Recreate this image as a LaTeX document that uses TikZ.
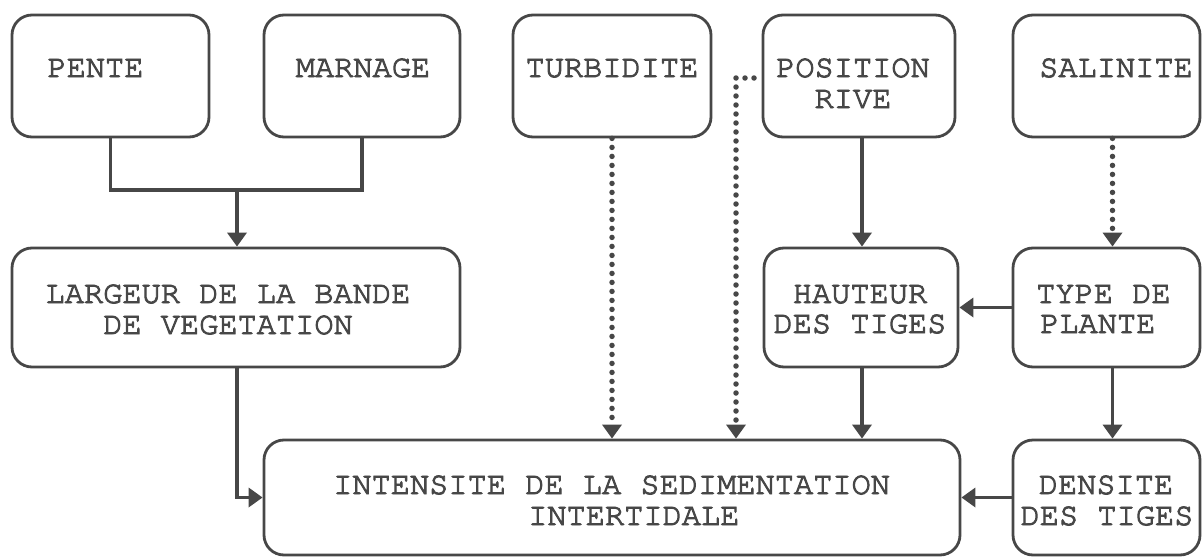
\documentclass[tikz,border=0pt]{standalone}
\usepackage{fontspec}
\usetikzlibrary{arrows.meta,calc}
\newfontfamily\tw{texgyrecursor-regular.otf}[FakeBold=3]
\definecolor{ink}{HTML}{474747}
\tikzset{
  box/.style={draw=ink, line width=2.8pt, rounded corners=20pt, inner sep=0pt},
  txt/.style={anchor=base, inner sep=0pt, text=ink, font=\tw\fontsize{32}{32}\selectfont},
  txtl/.style={txt, anchor=base west},
  solidline/.style={draw=ink, line width=3.8pt},
  arr/.style={solidline, -{Triangle[width=19pt,length=14pt]}},
  dotarr/.style={draw=ink, line width=5.5pt, line cap=round, dash pattern=on 0pt off 9pt, -{Triangle[width=19pt,length=14pt]}}
}
\begin{document}
\begin{tikzpicture}[x=1pt,y=-1pt]
\useasboundingbox (0,0) rectangle (1203,557);
% boxes
\node[box, minimum width=197pt, minimum height=122pt] (pente) at (110.5,76) {};
\node[box, minimum width=196pt, minimum height=122pt] (marnage) at (362,76) {};
\node[box, minimum width=198pt, minimum height=122pt] (turb) at (612,76) {};
\node[box, minimum width=192pt, minimum height=122pt] (pos) at (859,76) {};
\node[box, minimum width=187pt, minimum height=122pt] (sal) at (1106.5,76) {};
\node[box, minimum width=448pt, minimum height=119pt] (larg) at (236,307.5) {};
\node[box, minimum width=194pt, minimum height=119pt] (haut) at (861,307.5) {};
\node[box, minimum width=187pt, minimum height=119pt] (type) at (1106.5,307.5) {};
\node[box, minimum width=696pt, minimum height=115pt] (inten) at (612,497.5) {};
\node[box, minimum width=187pt, minimum height=115pt] (dens) at (1106.5,497.5) {};
% texts
\node[txt] (t-pente) at (95.5,77) {PENTE};
\node[txt] (t-marnage) at (363,77) {MARNAGE};
\node[txt] (t-turb) at (612,77) {TURBIDITE};
\node[txt] (t-pos1) at (853,77) {POSITION};
\node[txt] (t-pos2) at (853,108) {RIVE};
\node[txt] (t-sal) at (1116,77) {SALINITE};
\node[txt] (t-larg1) at (228,303) {LARGEUR DE LA BANDE};
\node[txt] (t-larg2) at (228,334) {DE VEGETATION};
\node[txt] (t-haut1) at (860,303) {HAUTEUR};
\node[txt] (t-haut2) at (860,333) {DES TIGES};
\node[txtl] (t-type1) at (1036,303) {TYPE DE};
\node[txtl] (t-type2) at (1040,333) {PLANTE};
\node[txtl] (t-int1) at (333,494) {INTENSITE DE LA SEDIMENTATION};
\node[txtl] (t-int2) at (528,525) {INTERTIDALE};
\node[txt] (t-dens1) at (1106,494) {DENSITE};
\node[txt] (t-dens2) at (1107,525) {DES TIGES};
% connectors
\coordinate (j1) at (237,190);
\coordinate (pd) at (736,78);
\coordinate (ps) at (754,78);
\draw[solidline] (pente.south) |- (marnage.south |- j1) -- (marnage.south);
\draw[arr] (j1) -- (j1 |- larg.north);
\draw[arr] (j1 |- larg.south) |- (inten.west);
\draw[dotarr] (turb.south) -- (inten.north);
\draw[dotarr] (ps) -- (pd) -- (pd |- inten.north);
\draw[arr] (pos.south -| 862,0) -- (haut.north -| 862,0);
\draw[dotarr] ([xshift=6pt]sal.south) -- ([xshift=6pt]type.north);
\draw[arr] (haut.south -| 862,0) -- (inten.north -| 862,0);
\draw[arr] (type.west) -- (haut.east |- type.west);
\draw[arr] ([xshift=6pt]type.south) -- ([xshift=6pt]dens.north);
\draw[arr] (dens.west) -- (inten.east |- dens.west);
\end{tikzpicture}
\end{document}
